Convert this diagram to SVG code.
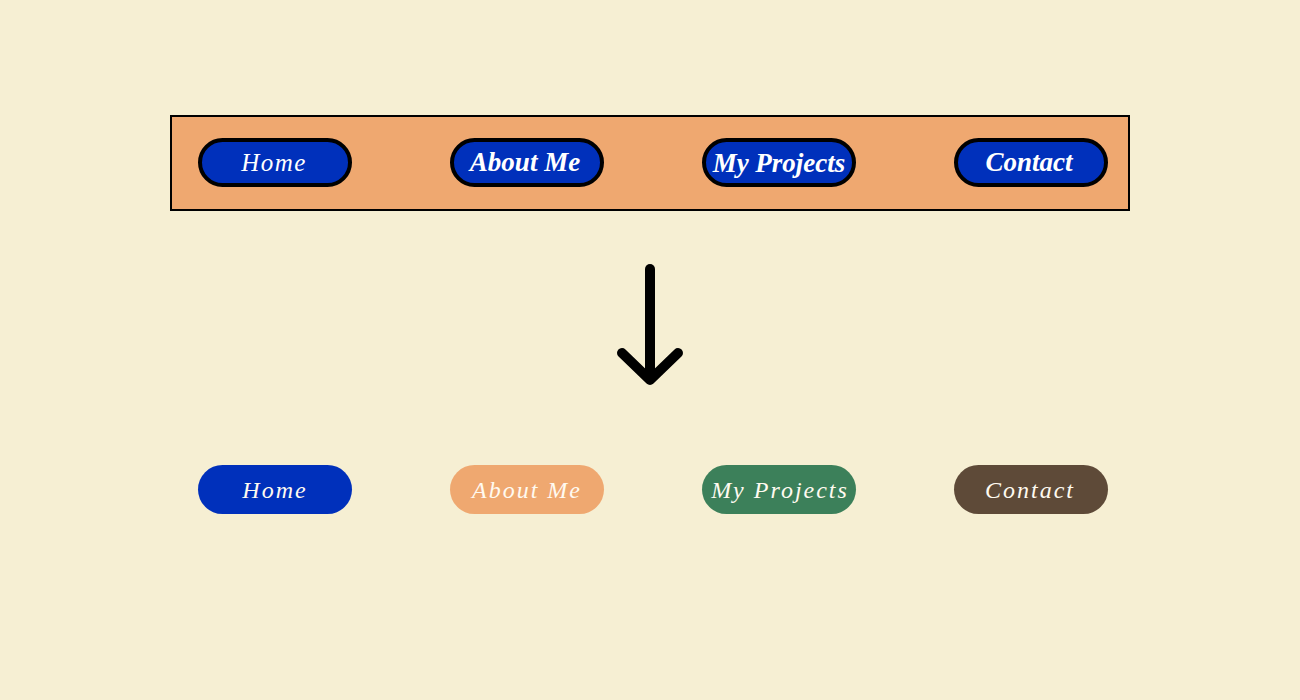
<svg xmlns="http://www.w3.org/2000/svg" width="1300" height="700" viewBox="0 0 1300 700">
<style>
.bg{fill:#F6EFD3}
.bar{fill:#EFA870;stroke:#000;stroke-width:2}
.pt{fill:#0030BB;stroke:#000;stroke-width:4}
.tb{font-family:"Liberation Serif",serif;font-style:italic;font-weight:bold;font-size:27px;fill:#fff;text-anchor:middle}
.tr{font-family:"Liberation Serif",serif;font-style:italic;font-size:25px;fill:#fff;text-anchor:middle;letter-spacing:1.5px}
.tl{font-family:"Liberation Serif",serif;font-style:italic;font-size:24px;fill:#FFFaF0;text-anchor:middle;letter-spacing:2px}
.arr{fill:none;stroke:#000;stroke-width:10;stroke-linecap:round;stroke-linejoin:round}
</style>
<rect class="bg" x="0" y="0" width="1300" height="700"/>
<g id="navbar">
<rect class="bar" x="171" y="116" width="958" height="94"/>
</g>
<g id="top-home"><rect class="pt" x="200" y="140" width="150" height="45" rx="22.5"/><text class="tr" x="274" y="171">Home</text></g>
<g id="top-about"><rect class="pt" x="452" y="140" width="150" height="45" rx="22.5"/><text class="tb" x="525" y="171">About Me</text></g>
<g id="top-projects"><rect class="pt" x="704" y="140" width="150" height="45" rx="22.5"/><text class="tb" x="779" y="172">My Projects</text></g>
<g id="top-contact"><rect class="pt" x="956" y="140" width="150" height="45" rx="22.5"/><text class="tb" x="1029" y="171">Contact</text></g>
<g id="connectors">
<line class="arr" x1="650" y1="269" x2="650" y2="379"/>
<polyline class="arr" points="622,353 650,380 678,353"/>
</g>
<g id="bot-home"><rect x="198" y="465" width="154" height="49" rx="24.5" fill="#0030BB"/><text class="tl" x="275" y="498">Home</text></g>
<g id="bot-about"><rect x="450" y="465" width="154" height="49" rx="24.5" fill="#EFA870"/><text class="tl" x="527" y="498">About Me</text></g>
<g id="bot-projects"><rect x="702" y="465" width="154" height="49" rx="24.5" fill="#3C805A"/><text class="tl" x="780" y="498">My Projects</text></g>
<g id="bot-contact"><rect x="954" y="465" width="154" height="49" rx="24.5" fill="#5E4A38"/><text class="tl" x="1030" y="498">Contact</text></g>
</svg>
